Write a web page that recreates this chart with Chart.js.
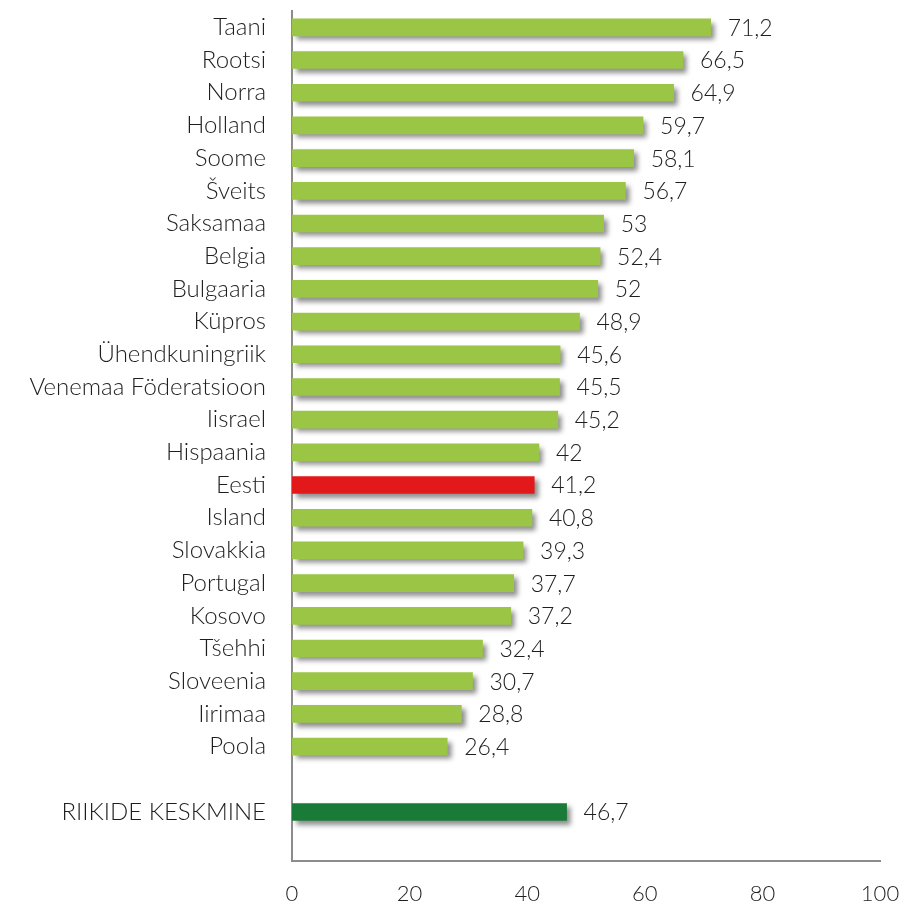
<!DOCTYPE html>
<html>
<head>
<meta charset="utf-8">
<script src="https://cdn.jsdelivr.net/npm/chart.js@4"></script>
<style>
  html, body { margin: 0; padding: 0; background: #fff; }
  #wrap { width: 903px; height: 908px; }
</style>
</head>
<body>
<div id="wrap"><canvas id="myChart" width="903" height="908"></canvas></div>
<script>
// chart data
const countries = ["Taani", "Rootsi", "Norra", "Holland", "Soome", "Šveits", "Saksamaa", "Belgia",
  "Bulgaaria", "Küpros", "Ühendkuningriik", "Venemaa Föderatsioon", "Iisrael", "Hispaania", "Eesti",
  "Island", "Slovakkia", "Portugal", "Kosovo", "Tšehhi", "Sloveenia", "Iirimaa", "Poola", "",
  "RIIKIDE KESKMINE", ""];
const values = [71.2, 66.5, 64.9, 59.7, 58.1, 56.7, 53, 52.4, 52, 48.9, 45.6, 45.5, 45.2, 42, 41.2,
  40.8, 39.3, 37.7, 37.2, 32.4, 30.7, 28.8, 26.4, null, 46.7, null];
const xTicks = [0, 20, 40, 60, 80, 100];

const fontFamily = "Lato, 'Open Sans', sans-serif";

const barColors = countries.map(c => {
  if (c === "Eesti") return "#e3181b";
  if (c === "RIIKIDE KESKMINE") return "#1a7a38";
  return "#9bc545";
});

// shadow under the bars
const shadowPlugin = {
  id: "barShadow",
  beforeDatasetsDraw(chart) {
    const ctx = chart.ctx;
    ctx.save();
    ctx.shadowColor = "rgba(0,0,0,0.45)";
    ctx.shadowBlur = 5;
    ctx.shadowOffsetX = 4;
    ctx.shadowOffsetY = 4;
  },
  afterDatasetsDraw(chart) {
    chart.ctx.restore();
  }
};

// value labels next to bars, with comma decimals
const labelPlugin = {
  id: "valueLabels",
  afterDatasetsDraw(chart) {
    const ctx = chart.ctx;
    const meta = chart.getDatasetMeta(0);
    ctx.save();
    ctx.font = "300 23px " + fontFamily;
    ctx.fillStyle = "#1e1e1e";
    ctx.textAlign = "left";
    ctx.textBaseline = "middle";
    meta.data.forEach((bar, i) => {
      const v = values[i];
      if (v === null) return;
      ctx.fillText(String(v).replace(".", ","), bar.x + 17, bar.y + 1);
    });
    ctx.restore();
  }
};

new Chart("myChart", {
  type: "bar",
  data: {
    labels: countries,
    datasets: [{
      data: values,
      backgroundColor: barColors,
      barThickness: 17
    }]
  },
  options: {
    indexAxis: "y",
    responsive: false,
    animation: false,
    layout: { padding: { top: 11, right: 23, bottom: 0, left: 0 } },
    plugins: {
      legend: { display: false },
      tooltip: { enabled: false }
    },
    scales: {
      x: {
        min: 0,
        max: 100,
        afterBuildTicks(axis) { axis.ticks = xTicks.map(v => ({ value: v })); },
        afterFit(scale) {
          scale.height = 47;
          scale.paddingLeft = 0;
          scale.paddingRight = 0;
          scale.paddingBottom = 0;
        },
        grid: { display: false, drawTicks: false },
        border: { display: true, color: "#8c8c8c", width: 2 },
        ticks: {
          padding: 20,
          color: "#1e1e1e",
          font: { family: fontFamily, size: 22, weight: 300 }
        }
      },
      y: {
        afterFit(scale) {
          scale.width = 292;
          scale.paddingTop = 0;
          scale.paddingBottom = 0;
        },
        grid: { display: false, drawTicks: false },
        border: { display: true, color: "#8c8c8c", width: 2 },
        ticks: {
          padding: 26,
          autoSkip: false,
          color: "#1e1e1e",
          font: { family: fontFamily, size: 24, weight: 300 }
        }
      }
    }
  },
  plugins: [shadowPlugin, labelPlugin]
});
</script>
</body>
</html>
